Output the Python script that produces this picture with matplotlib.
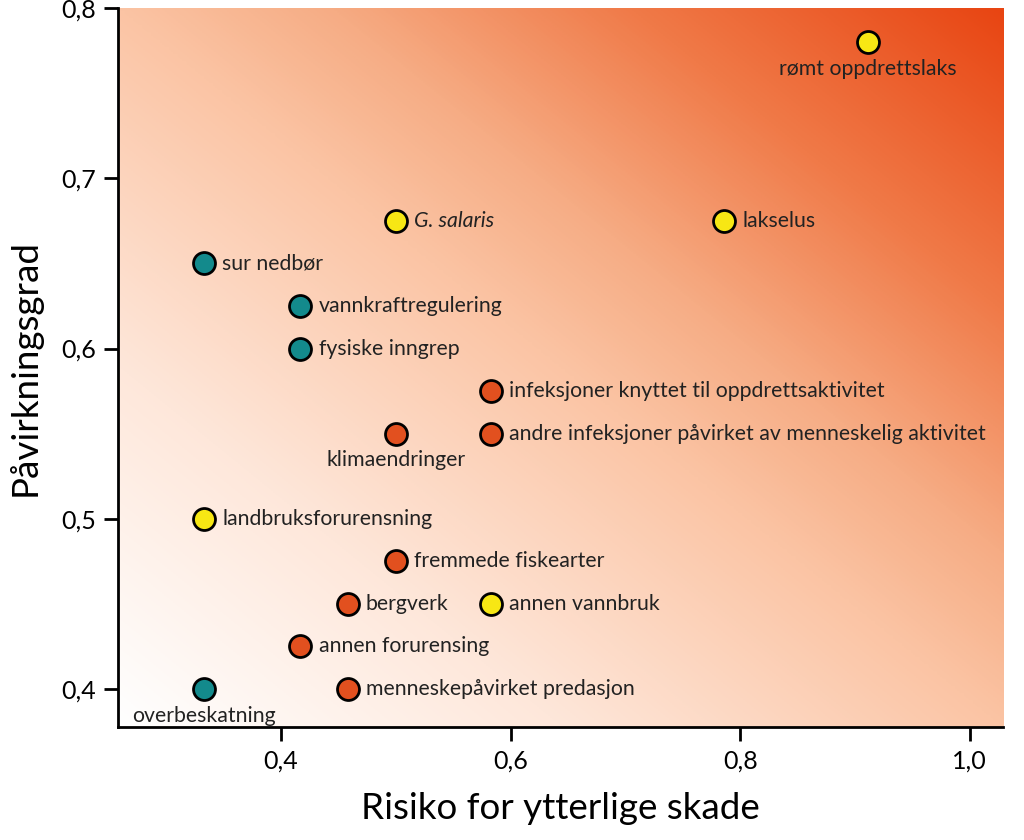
import numpy as np
import matplotlib.pyplot as plt
from matplotlib.colors import LinearSegmentedColormap

plt.rcParams['font.family'] = ['Lato', 'DejaVu Sans']

# data
labels = ["rømt oppdrettslaks", "G. salaris", "lakselus", "sur nedbør",
          "vannkraftregulering", "fysiske inngrep",
          "infeksjoner knyttet til oppdrettsaktivitet", "klimaendringer",
          "andre infeksjoner påvirket av menneskelig aktivitet",
          "landbruksforurensning", "fremmede fiskearter", "bergverk",
          "annen vannbruk", "annen forurensing", "menneskepåvirket predasjon",
          "overbeskatning"]
risk = [0.911, 0.5, 0.786, 0.333, 0.417, 0.417, 0.583, 0.5, 0.583,
        0.333, 0.5, 0.458, 0.583, 0.417, 0.458, 0.333]
impact = [0.78, 0.675, 0.675, 0.65, 0.625, 0.6, 0.575, 0.55, 0.55,
          0.5, 0.475, 0.45, 0.45, 0.425, 0.4, 0.4]
group = ["y", "y", "y", "t", "t", "t", "o", "o", "o",
         "y", "o", "o", "y", "o", "o", "t"]
colors = {"y": "#f7e714", "t": "#138a8c", "o": "#e2501f"}
below = ["rømt oppdrettslaks", "klimaendringer", "overbeskatning"]

xlim = (0.258, 1.029)
ylim = (0.3777, 0.8)

fig = plt.figure(figsize=(10.24, 8.4), dpi=100)
ax = fig.add_axes([0.1152, 0.1345, 0.8643, 0.856])

# background: diagonal fade, white bottom-left -> orange top-right
t_stops = [0.0, 0.25, 0.5, 0.62, 0.79, 1.0]
c_stops = ["#ffffff", "#fee7da", "#fbc4a4", "#f6ac84", "#f07a48", "#e84512"]
cmap = LinearSegmentedColormap.from_list("bg", list(zip(t_stops, c_stops)))
gx, gy = np.meshgrid(np.linspace(0, 1, 400), np.linspace(0, 1, 400))
ax.imshow((gx + gy) / 2, extent=[xlim[0], xlim[1], ylim[0], ylim[1]],
          origin="lower", cmap=cmap, aspect="auto", zorder=0, vmin=0, vmax=1)

for lab, x, y, g in zip(labels, risk, impact, group):
    ax.scatter(x, y, s=250, c=colors[g], edgecolors="black", linewidths=2,
               zorder=3)
    style = "italic" if lab == "G. salaris" else "normal"
    if lab in below:
        ax.annotate(lab, (x, y), xytext=(0, -12), textcoords="offset points",
                    ha="center", va="top", fontsize=15.3, color="#222222",
                    zorder=4)
    else:
        ax.annotate(lab, (x, y), xytext=(13, 0), textcoords="offset points",
                    ha="left", va="center", fontsize=15.3, color="#222222",
                    style=style, zorder=4)

ax.set_xlim(xlim)
ax.set_ylim(ylim)
ax.set_xticks([0.4, 0.6, 0.8, 1.0])
ax.set_xticklabels(["0,4", "0,6", "0,8", "1,0"])
ax.set_yticks([0.4, 0.5, 0.6, 0.7, 0.8])
ax.set_yticklabels(["0,4", "0,5", "0,6", "0,7", "0,8"])
ax.tick_params(direction="out", length=10, width=2, labelsize=18, pad=6)
for s in ["top", "right"]:
    ax.spines[s].set_visible(False)
for s in ["left", "bottom"]:
    ax.spines[s].set_linewidth(2)

ax.set_xlabel("Risiko for ytterlige skade", fontsize=26.5, labelpad=14)
ax.set_ylabel("Påvirkningsgrad", fontsize=26.5, labelpad=14)

plt.savefig("out.png", dpi=100)
